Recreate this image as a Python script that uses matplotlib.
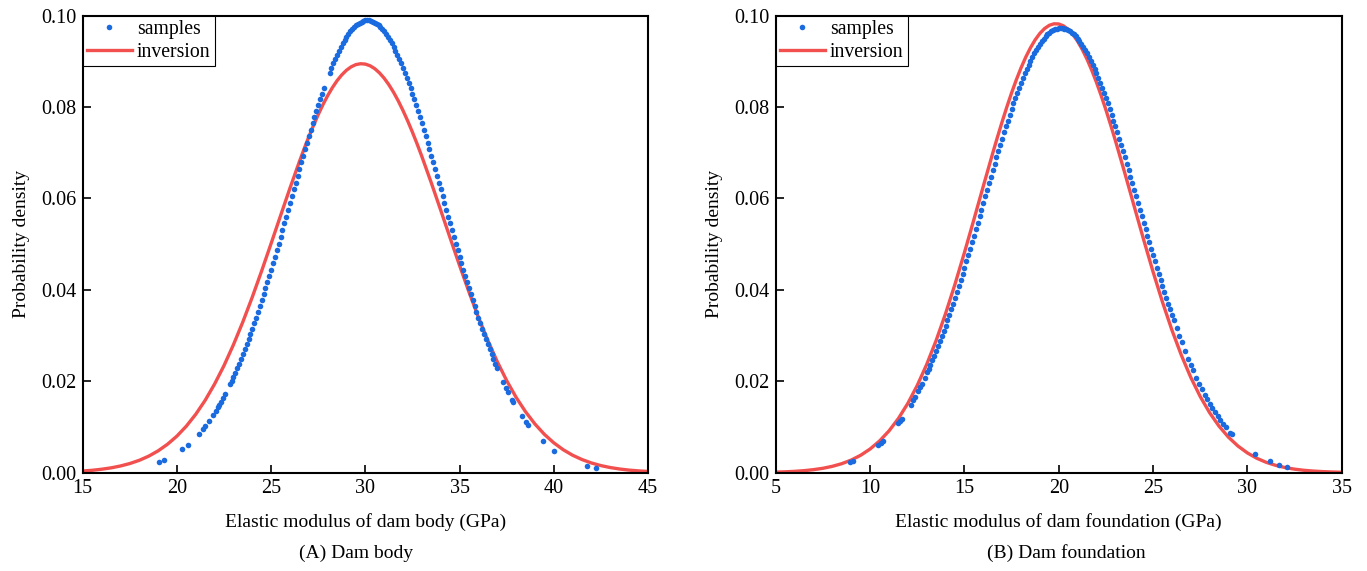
import matplotlib.pyplot as plt

plt.rcParams['font.family'] = ['Liberation Serif', 'DejaVu Serif']

# ---- (A) dam body: sample points ----
body_x = [19.05, 19.31, 20.29, 20.60, 21.17, 21.40, 21.49, 21.72, 21.93, 22.06,
          22.17, 22.25, 22.33, 22.46, 22.55, 22.82, 22.91,
          23.0, 23.1, 23.2, 23.3, 23.4, 23.5, 23.6, 23.7, 23.8, 23.9,
          24.0, 24.1, 24.2, 24.3, 24.4, 24.5, 24.6, 24.7, 24.8, 24.9,
          25.0, 25.1, 25.2, 25.3, 25.4, 25.5, 25.6, 25.7, 25.8, 25.9,
          26.0, 26.1, 26.2, 26.3, 26.4, 26.5, 26.6, 26.7, 26.8, 26.9,
          27.0, 27.1, 27.2, 27.3, 27.4, 27.5, 27.6, 27.7, 27.8,
          28.1, 28.2, 28.3, 28.4, 28.5, 28.6, 28.7, 28.8, 28.9,
          29.0, 29.1, 29.2, 29.3, 29.4, 29.5, 29.6, 29.7, 29.8, 29.9,
          30.0, 30.1, 30.2, 30.3, 30.4, 30.5, 30.6, 30.7, 30.8, 30.9,
          31.0, 31.1, 31.2, 31.3, 31.4, 31.5, 31.6, 31.7, 31.8, 31.9,
          32.0, 32.1, 32.2, 32.3, 32.4, 32.5, 32.6, 32.7, 32.8, 32.9,
          33.0, 33.1, 33.2, 33.3, 33.4, 33.5, 33.6, 33.7, 33.8, 33.9,
          34.0, 34.1, 34.2, 34.3, 34.4, 34.5, 34.6, 34.7, 34.8, 34.9,
          35.0, 35.1, 35.2, 35.3, 35.4, 35.5, 35.6, 35.7, 35.8, 35.9,
          36.0, 36.1, 36.2, 36.3, 36.4, 36.5, 36.6, 36.7, 36.8, 36.9,
          37.0, 37.33, 37.47, 37.59, 37.80, 37.86, 38.33, 38.53, 38.65, 39.42,
          40.03, 41.75, 42.24]
body_y = [0.00231, 0.00275, 0.00511, 0.00615, 0.00850, 0.00963, 0.01011, 0.01139, 0.01268, 0.01353,
          0.01429, 0.01485, 0.01543, 0.01641, 0.01712, 0.01936, 0.02016,
          0.02097, 0.02190, 0.02286, 0.02384, 0.02485, 0.02589, 0.02696, 0.02805, 0.02917, 0.03031,
          0.03148, 0.03268, 0.03390, 0.03514, 0.03641, 0.03770, 0.03901, 0.04034, 0.04169, 0.04306,
          0.04445, 0.04585, 0.04727, 0.04870, 0.05015, 0.05161, 0.05307, 0.05455, 0.05603, 0.05751,
          0.05900, 0.06049, 0.06198, 0.06347, 0.06495, 0.06643, 0.06789, 0.06935, 0.07080, 0.07223,
          0.07364, 0.07504, 0.07642, 0.07777, 0.07910, 0.08040, 0.08167, 0.08291, 0.08412,
          0.08753, 0.08859, 0.08960, 0.09057, 0.09150, 0.09237, 0.09320, 0.09398, 0.09471,
          0.09538, 0.09600, 0.09656, 0.09707, 0.09752, 0.09791, 0.09824, 0.09851, 0.09873, 0.09888,
          0.09897, 0.09900, 0.09897, 0.09888, 0.09873, 0.09851, 0.09824, 0.09791, 0.09752, 0.09707,
          0.09656, 0.09600, 0.09538, 0.09471, 0.09398, 0.09320, 0.09237, 0.09150, 0.09057, 0.08960,
          0.08859, 0.08753, 0.08643, 0.08529, 0.08412, 0.08291, 0.08167, 0.08040, 0.07910, 0.07777,
          0.07642, 0.07504, 0.07364, 0.07223, 0.07080, 0.06935, 0.06789, 0.06643, 0.06495, 0.06347,
          0.06198, 0.06049, 0.05900, 0.05751, 0.05603, 0.05455, 0.05307, 0.05161, 0.05015, 0.04870,
          0.04727, 0.04585, 0.04445, 0.04306, 0.04169, 0.04034, 0.03901, 0.03770, 0.03641, 0.03514,
          0.03390, 0.03268, 0.03148, 0.03031, 0.02917, 0.02805, 0.02696, 0.02589, 0.02485, 0.02384,
          0.02286, 0.01981, 0.01859, 0.01760, 0.01596, 0.01550, 0.01231, 0.01110, 0.01043, 0.00683,
          0.00475, 0.00152, 0.00106]

# (A) inversion curve, read every 0.5 GPa (0.25 near the peak)
body_inv_x = [15.0, 15.5, 16.0, 16.5, 17.0, 17.5, 18.0, 18.5, 19.0, 19.5,
              20.0, 20.5, 21.0, 21.5, 22.0, 22.5, 23.0, 23.5, 24.0, 24.5,
              25.0, 25.5, 26.0, 26.5, 26.75, 27.0, 27.25, 27.5, 27.75, 28.0,
              28.25, 28.5, 28.75, 29.0, 29.25, 29.5, 29.75, 30.0, 30.25, 30.5,
              30.75, 31.0, 31.25, 31.5, 31.75, 32.0, 32.25, 32.5, 32.75, 33.0,
              33.5, 34.0, 34.5, 35.0, 35.5, 36.0, 36.5, 37.0, 37.5, 38.0,
              38.5, 39.0, 39.5, 40.0, 40.5, 41.0, 41.5, 42.0, 42.5, 43.0,
              43.5, 44.0, 44.5, 45.0]
body_inv_y = [0.00036, 0.00052, 0.00075, 0.00105, 0.00146, 0.00200, 0.00270, 0.00361, 0.00477, 0.00622,
              0.00800, 0.01018, 0.01278, 0.01584, 0.01940, 0.02344, 0.02800, 0.03300, 0.03842, 0.04418,
              0.05016, 0.05623, 0.06226, 0.06806, 0.07084, 0.07349, 0.07600, 0.07836, 0.08053, 0.08250,
              0.08425, 0.08578, 0.08705, 0.08807, 0.08882, 0.08930, 0.08949, 0.08941, 0.08905, 0.08841,
              0.08749, 0.08632, 0.08489, 0.08323, 0.08134, 0.07924, 0.07696, 0.07451, 0.07192, 0.06919,
              0.06344, 0.05744, 0.05137, 0.04536, 0.03955, 0.03405, 0.02895, 0.02432, 0.02016, 0.01650,
              0.01335, 0.01066, 0.00840, 0.00654, 0.00503, 0.00382, 0.00287, 0.00212, 0.00155, 0.00112,
              0.00080, 0.00056, 0.00039, 0.00027]

# ---- (B) dam foundation: sample points ----
found_x = [8.94, 9.10, 10.44, 10.58, 10.70, 11.50, 11.60, 11.68, 12.15, 12.30,
           12.38, 12.56, 12.65, 12.74, 12.90, 13.03,
           13.1, 13.2, 13.3, 13.4, 13.5, 13.6, 13.7, 13.8, 13.9,
           14.0, 14.1, 14.2, 14.3, 14.4, 14.5, 14.6, 14.7, 14.8, 14.9,
           15.0, 15.1, 15.2, 15.3, 15.4, 15.5, 15.6, 15.7, 15.8, 15.9,
           16.0, 16.1, 16.2, 16.3, 16.4, 16.5, 16.6, 16.7, 16.8, 16.9,
           17.0, 17.1, 17.2, 17.3, 17.4, 17.5, 17.6, 17.7, 17.8, 17.9,
           18.0, 18.1, 18.2, 18.3, 18.4, 18.5, 18.6, 18.7, 18.8, 18.9,
           19.0, 19.1, 19.2, 19.3, 19.4, 19.5, 19.6, 19.7, 19.8, 19.9,
           20.0, 20.1, 20.2, 20.3, 20.4, 20.5, 20.6, 20.7, 20.8, 20.9,
           21.0, 21.1, 21.2, 21.3, 21.4, 21.5, 21.6, 21.7, 21.8, 21.9,
           22.0, 22.1, 22.2, 22.3, 22.4, 22.5, 22.6, 22.7, 22.8, 22.9,
           23.0, 23.1, 23.2, 23.3, 23.4, 23.5, 23.6, 23.7, 23.8, 23.9,
           24.0, 24.1, 24.2, 24.3, 24.4, 24.5, 24.6, 24.7, 24.8, 24.9,
           25.0, 25.1, 25.2, 25.3, 25.4, 25.5, 25.6, 25.7, 25.8, 25.9,
           26.0, 26.1, 26.25, 26.40, 26.52, 26.70, 26.87, 27.00, 27.13, 27.30,
           27.45, 27.60, 27.75, 27.88, 28.01, 28.15, 28.28, 28.42, 28.55, 28.72,
           28.85, 29.10, 29.17, 30.40, 31.20, 31.70, 32.10]
found_y = [0.00239, 0.00266, 0.00606, 0.00657, 0.00703, 0.01078, 0.01135, 0.01181, 0.01485, 0.01593,
           0.01653, 0.01794, 0.01867, 0.01943, 0.02082, 0.02200,
           0.02265, 0.02361, 0.02459, 0.02560, 0.02663, 0.02769, 0.02877, 0.02988, 0.03101,
           0.03217, 0.03335, 0.03455, 0.03577, 0.03702, 0.03828, 0.03957, 0.04087, 0.04219, 0.04353,
           0.04489, 0.04625, 0.04764, 0.04903, 0.05044, 0.05185, 0.05328, 0.05470, 0.05614, 0.05758,
           0.05902, 0.06045, 0.06189, 0.06332, 0.06475, 0.06617, 0.06759, 0.06899, 0.07038, 0.07175,
           0.07311, 0.07445, 0.07577, 0.07706, 0.07833, 0.07958, 0.08079, 0.08198, 0.08313, 0.08425,
           0.08534, 0.08639, 0.08739, 0.08836, 0.08929, 0.09017, 0.09100, 0.09179, 0.09253, 0.09322,
           0.09386, 0.09445, 0.09498, 0.09547, 0.09589, 0.09626, 0.09658, 0.09684, 0.09704, 0.09718,
           0.09727, 0.09730, 0.09727, 0.09718, 0.09704, 0.09684, 0.09658, 0.09626, 0.09589, 0.09547,
           0.09498, 0.09445, 0.09386, 0.09322, 0.09253, 0.09179, 0.09100, 0.09017, 0.08929, 0.08836,
           0.08739, 0.08639, 0.08534, 0.08425, 0.08313, 0.08198, 0.08079, 0.07958, 0.07833, 0.07706,
           0.07577, 0.07445, 0.07311, 0.07175, 0.07038, 0.06899, 0.06759, 0.06617, 0.06475, 0.06332,
           0.06189, 0.06045, 0.05902, 0.05758, 0.05614, 0.05470, 0.05328, 0.05185, 0.05044, 0.04903,
           0.04764, 0.04625, 0.04489, 0.04353, 0.04219, 0.04087, 0.03957, 0.03828, 0.03702, 0.03577,
           0.03455, 0.03335, 0.03159, 0.02988, 0.02856, 0.02663, 0.02489, 0.02361, 0.02237, 0.02082,
           0.01951, 0.01826, 0.01707, 0.01608, 0.01513, 0.01416, 0.01330, 0.01241, 0.01163, 0.01067,
           0.00998, 0.00875, 0.00843, 0.00415, 0.00249, 0.00178, 0.00134]

# (B) inversion curve
found_inv_x = [5.0, 5.5, 6.0, 6.5, 7.0, 7.5, 8.0, 8.5, 9.0, 9.5,
               10.0, 10.5, 11.0, 11.5, 12.0, 12.5, 13.0, 13.5, 14.0, 14.5,
               15.0, 15.5, 16.0, 16.5, 16.75, 17.0, 17.25, 17.5, 17.75, 18.0,
               18.25, 18.5, 18.75, 19.0, 19.25, 19.5, 19.75, 20.0, 20.25, 20.5,
               20.75, 21.0, 21.25, 21.5, 21.75, 22.0, 22.25, 22.5, 22.75, 23.0,
               23.5, 24.0, 24.5, 25.0, 25.5, 26.0, 26.5, 27.0, 27.5, 28.0,
               28.5, 29.0, 29.5, 30.0, 30.5, 31.0, 31.5, 32.0, 32.5, 33.0,
               33.5, 34.0, 34.5, 35.0]
found_inv_y = [0.00012, 0.00019, 0.00029, 0.00044, 0.00066, 0.00096, 0.00139, 0.00197, 0.00276, 0.00381,
               0.00518, 0.00693, 0.00913, 0.01185, 0.01516, 0.01909, 0.02368, 0.02892, 0.03480, 0.04124,
               0.04815, 0.05535, 0.06268, 0.06991, 0.07342, 0.07680, 0.08004, 0.08311, 0.08596, 0.08857,
               0.09092, 0.09297, 0.09472, 0.09613, 0.09719, 0.09790, 0.09823, 0.09819, 0.09778, 0.09701,
               0.09588, 0.09440, 0.09259, 0.09047, 0.08807, 0.08541, 0.08251, 0.07941, 0.07613, 0.07272,
               0.06560, 0.05828, 0.05100, 0.04396, 0.03732, 0.03120, 0.02570, 0.02084, 0.01666, 0.01311,
               0.01016, 0.00775, 0.00583, 0.00432, 0.00315, 0.00226, 0.00160, 0.00112, 0.00077, 0.00052,
               0.00035, 0.00023, 0.00015, 0.00009]

blue = '#1a6ae0'
red = '#f24f4f'

fig = plt.figure(figsize=(13.67, 5.71), dpi=100)

panels = [
    ([0.0605, 0.1722, 0.4135, 0.8003], body_x, body_y, body_inv_x, body_inv_y,
     (15, 45), 'Elastic modulus of dam body (GPa)', '(A) Dam body', 0.2604),
    ([0.5675, 0.1722, 0.4140, 0.8003], found_x, found_y, found_inv_x, found_inv_y,
     (5, 35), 'Elastic modulus of dam foundation (GPa)', '(B) Dam foundation', 0.7798),
]

for rect, sx, sy, ix, iy, xlim, xlabel, sub, subx in panels:
    ax = fig.add_axes(rect)
    ax.plot(sx, sy, 'o', ms=4.0, mec='none', color=blue, label='samples', zorder=3)
    ax.plot(ix, iy, '-', lw=2.4, color=red, label='inversion', zorder=2)
    ax.set_xlim(*xlim)
    ax.set_ylim(0, 0.10)
    ax.set_xticks(range(xlim[0], xlim[1] + 1, 5))
    ax.set_yticks([0.0, 0.02, 0.04, 0.06, 0.08, 0.10])
    ax.yaxis.set_major_formatter(plt.FormatStrFormatter('%.2f'))
    ax.tick_params(direction='in', length=6, width=1.2, labelsize=14.5, pad=4.5,
                   top=False, right=False)
    for sp in ax.spines.values():
        sp.set_linewidth(1.5)
    ax.set_xlabel(xlabel, fontsize=14, labelpad=11)
    ax.set_ylabel('Probability density', fontsize=14, labelpad=8)
    leg = ax.legend(loc='upper left', bbox_to_anchor=(0, 1), borderaxespad=0,
                    fancybox=False, edgecolor='black', framealpha=1, fontsize=14.2,
                    handlelength=2.3, handletextpad=0.25, borderpad=0.2,
                    labelspacing=0.2, numpoints=1)
    leg.get_frame().set_linewidth(0.8)
    fig.text(subx, 0.031, sub, ha='center', va='center', fontsize=14)

fig.savefig('out.png', dpi=100)
